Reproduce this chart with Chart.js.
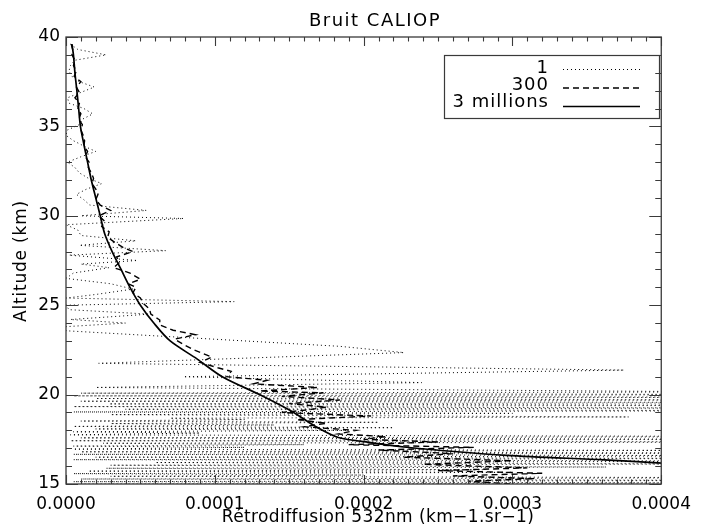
<!DOCTYPE html>
<html>
<head>
<meta charset="utf-8">
<title>Bruit CALIOP</title>
<script src="https://cdn.jsdelivr.net/npm/chart.js@4.4.1/dist/chart.umd.min.js"></script>
<style>
  html, body { margin: 0; padding: 0; background: #fff; }
  canvas { display: block; }
</style>
</head>
<body>
<canvas id="grafico" width="701" height="528"></canvas>
<script>
// valeurs de retrodiffusion en unites de 1e-5 km-1.sr-1, altitudes en km
const escala = 1e-5;

// 3 millions de tirs (courbe lisse)
const alt3M = [39.6, 39, 38, 37, 36, 35, 34, 33, 32, 31, 30, 29, 28, 27, 26, 25, 24, 23, 22, 21, 20, 19, 18.2, 17.6, 17.3, 17.07, 16.6, 16.35, 16.15, 15.9, 15.5, 15.0];
const val3M = [0.4, 0.5, 0.6, 0.73, 0.85, 0.97, 1.2, 1.45, 1.7, 2.0, 2.3, 2.6, 3.1, 3.7, 4.3, 5.0, 5.9, 7.0, 8.8, 10.5, 13.0, 15.3, 16.8, 18.3, 20.6, 22.7, 29.6, 36.2, 40.5, 46, 52, 58];

// 300 tirs (tirets)
const alt300 = [39.6, 39.3, 39.0, 38.7, 38.4, 38.1, 37.8, 37.5, 37.2, 36.9, 36.6, 36.3, 36.0, 35.7, 35.4, 35.1, 34.8, 34.5, 34.2, 33.9, 33.6, 33.3, 33.0, 32.7, 32.4, 32.1, 31.8, 31.5, 31.2, 30.9, 30.6, 30.3, 30.0, 29.7, 29.4, 29.1, 28.8, 28.5, 28.2, 28.0, 27.7, 27.4, 27.1, 26.8, 26.45, 26.2, 26.0, 25.7, 25.4, 25.1, 24.8, 24.5, 24.17, 23.9, 23.6, 23.35, 23.1, 22.8, 22.5, 22.1, 21.8, 21.5, 21.3, 21.0, 20.8, 20.6, 20.4, 20.2, 20.1, 19.9, 19.7, 19.5, 19.3, 19.15, 19.0, 18.8, 18.6, 18.4, 18.2, 18.0, 17.8, 17.65, 17.5, 17.35, 17.2, 17.05, 16.9, 16.7, 16.5, 16.3, 16.1, 15.9, 15.75, 15.6, 15.45, 15.3, 15.15, 15.0];
const val300 = [0.35, 0.45, 0.4, 0.6, 0.5, 0.7, 0.55, 1.0, 0.7, 0.9, 0.6, 0.9, 0.8, 1.0, 0.85, 1.1, 1.0, 1.15, 1.25, 1.2, 1.45, 1.3, 1.55, 1.5, 1.7, 1.85, 1.75, 2.0, 2.15, 2.0, 2.3, 3.0, 2.2, 2.6, 2.4, 2.9, 2.8, 3.3, 3.9, 4.5, 3.4, 3.6, 3.2, 4.3, 5.0, 4.2, 4.7, 4.5, 5.0, 5.2, 5.6, 5.7, 6.3, 6.3, 7.2, 8.7, 7.3, 7.9, 8.6, 9.8, 9.0, 10.2, 11.1, 10.8, 13.5, 12.6, 16.9, 13.0, 17.3, 14.5, 18.4, 15.0, 17.5, 16.3, 14.5, 20.5, 15.5, 17.5, 16.0, 19.5, 18.3, 21.5, 20.0, 25.0, 19.0, 27.4, 21.0, 26.0, 22.7, 30.0, 24.0, 31.0, 25.0, 32.0, 26.0, 31.5, 27.0, 30.0];

// 1 tir (pointilles)
const alt1 = [39.6, 39.3, 39.0, 38.7, 38.4, 38.1, 37.8, 37.5, 37.2, 36.9, 36.6, 36.3, 36.0, 35.7, 35.4, 35.1, 34.8, 34.5, 34.2, 33.9, 33.6, 33.3, 33.0, 32.7, 32.4, 32.1, 31.8, 31.5, 31.2, 30.9, 30.6, 30.3, 30.0, 29.85, 29.5, 29.2, 28.9, 28.6, 28.35, 28.05, 27.8, 27.5, 27.3, 27.1, 26.8, 26.5, 26.2, 25.9, 25.6, 25.4, 25.2, 25.0, 24.75, 24.5, 24.2, 24.0, 23.8, 23.57, 22.7, 22.35, 21.75, 21.37, 21.0, 20.67, 20.4,
  20.15, 20.08, 20.0, 19.93, 19.85, 19.78, 19.7, 19.63, 19.55, 19.48, 19.4, 19.33, 19.25, 19.18, 19.1, 19.03, 18.95, 18.88, 18.75, 18.68, 18.6, 18.52, 18.45, 18.38, 18.3, 18.22, 18.15, 18.08, 18.0, 17.92, 17.85, 17.75, 17.65, 17.58, 17.5, 17.42, 17.35, 17.28, 17.2, 17.12, 17.05, 16.95, 16.88, 16.8, 16.73, 16.66, 16.58, 16.5, 16.43, 16.36, 16.28, 16.2, 16.12, 16.05, 15.95, 15.88, 15.8, 15.72, 15.65, 15.58, 15.5, 15.43, 15.35, 15.28, 15.2, 15.13, 15.06, 15.0];
const val1 = [0.3, 0.8, 2.7, 0.6, 0.3, 0.2, 0.4, 0.9, 1.9, 1.0, 0.1, 0.2, 1.2, 1.8, 1.1, 0.9, 0.1, 0.0, 0.5, 1.2, 2.0, 1.0, 0.1, 0.6, 0.9, 1.5, 2.4, 1.4, 0.7, 1.2, 1.6, 5.4, 1.0, 7.9, 0.0, 0.8, 1.0, 4.7, 0.9, 6.7, 0.2, 4.8, 1.0, 2.9, 0.5, 0.0, 3.0, 4.5, 2.0, 0.0, 11.3, 0.0, 0.2, 5.6, 0.3, 4.0, 0.0, 0.0, 18.4, 22.7, 2.2, 37.5, 7.9, 23.9, 2.0,
  45, 1.0, 50, 0.5, 48, 2.0, 47, 1.0, 52, 2.9, 49, 0.5, 46, 4.0, 50, 0.5, 30, 3.0, 37.8, 7.0, 12, 1.0, 21, 3.0, 14, 0.5, 22, 2.0, 19, 0.5, 9, 0.3, 52, 1.0, 48, 0.3, 50, 2.5, 16, 0.5, 12, 0.5, 40, 1.0, 55, 0.5, 50, 2.0, 48, 0.5, 52, 6.0, 45, 3.0, 36.3, 2.7, 28, 1.5, 30, 0.5, 20, 3.0, 50, 1.0, 48, 0.5, 45, 1.0];

// axes
const xTicks = [0, 0.0001, 0.0002, 0.0003, 0.0004];
const yTicks = [15, 20, 25, 30, 35, 40];
const xMinor = 0.00001;
const yMinor = 1;

const titulo = "Bruit CALIOP";
const tituloX = "Rétrodiffusion 532nm (km−1.sr−1)";
const tituloY = "Altitude (km)";

const puntos = (alts, vals) => alts.map((a, i) => ({ x: vals[i] * escala, y: a }));

const fuente = '"DejaVu Sans", sans-serif';

// cadre + graduations vers l'interieur
const cadre = {
  id: "cadre",
  afterDatasetsDraw(chart) {
    const { ctx, chartArea: a, scales } = chart;
    const sx = scales.x, sy = scales.y;
    ctx.save();
    ctx.strokeStyle = "#3a3a3a";
    ctx.lineWidth = 1.3;
    ctx.strokeRect(a.left, a.top, a.right - a.left, a.bottom - a.top);
    ctx.lineWidth = 1.1;
    ctx.beginPath();
    for (let i = 0; i <= 40; i++) {
      const px = Math.round(sx.getPixelForValue(i * xMinor)) + 0.5;
      const len = i % 10 === 0 ? 9 : 4.5;
      ctx.moveTo(px, a.bottom); ctx.lineTo(px, a.bottom - len);
      ctx.moveTo(px, a.top); ctx.lineTo(px, a.top + len);
    }
    for (let v = 15; v <= 40; v += yMinor) {
      const py = Math.round(sy.getPixelForValue(v)) + 0.5;
      const len = v % 5 === 0 ? 12 : 6;
      ctx.moveTo(a.left, py); ctx.lineTo(a.left + len, py);
      ctx.moveTo(a.right, py); ctx.lineTo(a.right - len, py);
    }
    ctx.stroke();
    ctx.restore();
  },
  afterDraw(chart) {
    const ctx = chart.ctx;
    ctx.save();
    ctx.fillStyle = "#000";
    ctx.textBaseline = "alphabetic";
    // titre
    ctx.font = "18px " + fuente;
    ctx.letterSpacing = "1.5px";
    ctx.textAlign = "center";
    ctx.fillText(titulo, 375, 26);
    // titre axe x
    ctx.font = "17px " + fuente;
    ctx.letterSpacing = "0.4px";
    ctx.fillText(tituloX, 378, 522);
    // titre axe y
    ctx.save();
    ctx.translate(26, 261);
    ctx.rotate(-Math.PI / 2);
    ctx.letterSpacing = "0.8px";
    ctx.fillText(tituloY, 0, 0);
    ctx.restore();

    // legende
    ctx.strokeStyle = "#3a3a3a";
    ctx.lineWidth = 1.2;
    ctx.strokeRect(444.5, 55.5, 215, 63);
    ctx.font = "18px " + fuente;
    ctx.letterSpacing = "1px";
    ctx.textAlign = "right";
    const bases = [73, 90, 107];
    const lineasY = [69.5, 88, 106.5];
    chart.data.datasets.forEach((ds, i) => {
      ctx.fillText(ds.label, 549, bases[i]);
      ctx.save();
      ctx.strokeStyle = "#000";
      ctx.lineWidth = ds.borderWidth;
      ctx.setLineDash(ds.borderDash || []);
      ctx.beginPath();
      ctx.moveTo(563, lineasY[i]);
      ctx.lineTo(640, lineasY[i]);
      ctx.stroke();
      ctx.restore();
    });
    ctx.restore();
  }
};

const config = {
  type: "scatter",
  data: {
    datasets: [
      {
        label: "1",
        data: puntos(alt1, val1),
        showLine: true,
        borderColor: "#000",
        borderWidth: 1,
        borderDash: [1, 3],
        pointRadius: 0,
        order: 2
      },
      {
        label: "300",
        data: puntos(alt300, val300),
        showLine: true,
        borderColor: "#000",
        borderWidth: 1.4,
        borderDash: [6, 4],
        pointRadius: 0,
        order: 1
      },
      {
        label: "3 millions",
        data: puntos(alt3M, val3M),
        showLine: true,
        borderColor: "#000",
        borderWidth: 1.7,
        tension: 0.3,
        pointRadius: 0,
        order: 0
      }
    ]
  },
  options: {
    responsive: false,
    animation: false,
    layout: { autoPadding: false, padding: { left: 0, top: 37, right: 30, bottom: 0 } },
    plugins: { legend: { display: false }, tooltip: { enabled: false }, title: { display: false } },
    scales: {
      x: {
        type: "linear",
        min: 0,
        max: 0.0004,
        grid: { display: false, drawTicks: false },
        border: { display: false },
        afterFit: (s) => { s.height = 44; },
        afterBuildTicks: (s) => { s.ticks = xTicks.map((v) => ({ value: v })); },
        ticks: {
          padding: 10,
          color: "#000",
          font: { family: fuente, size: 17 },
          maxRotation: 0,
          callback: (v) => Number(v).toFixed(4)
        }
      },
      y: {
        type: "linear",
        min: 15,
        max: 40,
        grid: { display: false, drawTicks: false },
        border: { display: false },
        afterFit: (s) => { s.width = 66; },
        afterBuildTicks: (s) => { s.ticks = yTicks.map((v) => ({ value: v })); },
        ticks: {
          padding: 6,
          color: "#000",
          font: { family: fuente, size: 17 },
          callback: (v) => String(v)
        }
      }
    }
  },
  plugins: [cadre]
};

const chart = new Chart(document.getElementById("grafico"), config);
</script>
</body>
</html>
